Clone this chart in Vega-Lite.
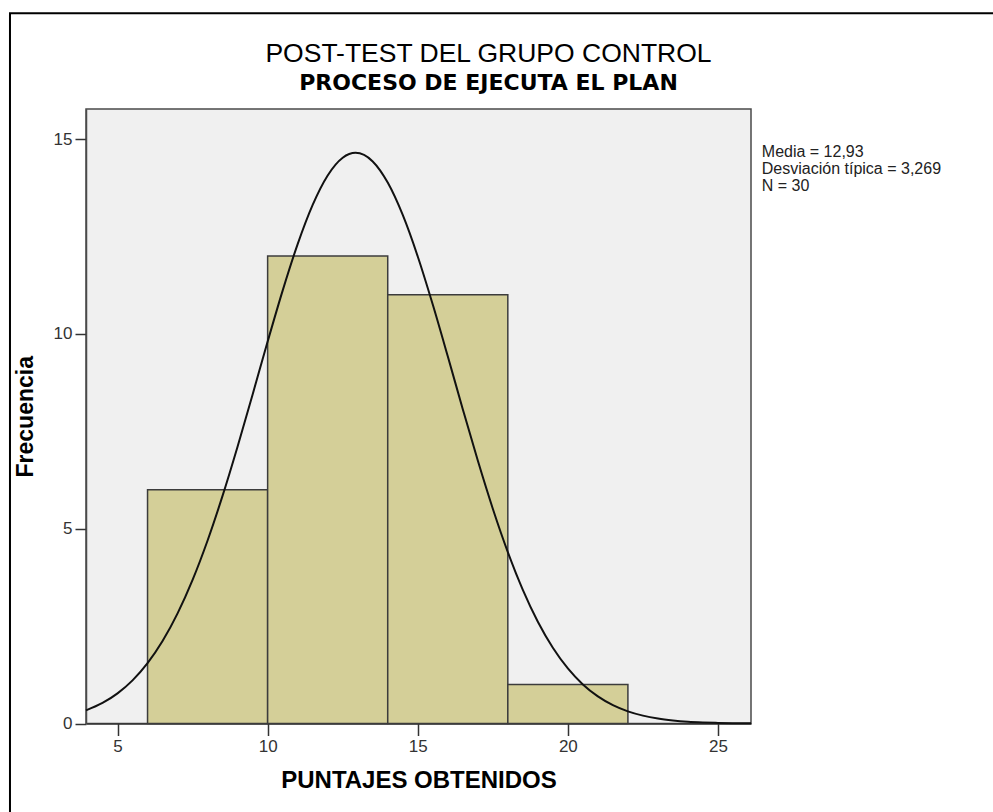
{
  "$schema": "https://vega.github.io/schema/vega-lite/v6.json",
  "width": 665,
  "height": 614.5,
  "autosize": {"type": "none"},
  "padding": {"left": 86, "top": 109, "right": 242, "bottom": 88.5},
  "background": "white",
  "title": {
    "text": "POST-TEST DEL GRUPO CONTROL",
    "subtitle": "PROCESO DE EJECUTA EL PLAN",
    "anchor": "middle",
    "dx": 70,
    "font": "Liberation Sans",
    "fontSize": 26.5,
    "fontWeight": "normal",
    "color": "#000000",
    "subtitleFont": "DejaVu Sans",
    "subtitleFontSize": 22,
    "subtitleFontWeight": "bold",
    "subtitleColor": "#000000",
    "subtitlePadding": 6,
    "offset": -82
  },
  "config": {
    "view": {"fill": "#f0f0f0", "stroke": "#4a4a4a", "strokeWidth": 1.5}
  },
  "layer": [
    {
      "data": {"values": [
        {"bin_start": 6, "bin_end": 10, "count": 6},
        {"bin_start": 10, "bin_end": 14, "count": 12},
        {"bin_start": 14, "bin_end": 18, "count": 11},
        {"bin_start": 18, "bin_end": 22, "count": 1}
      ]},
      "mark": {"type": "rect", "fill": "#d4cf98", "stroke": "#3c3c3c", "strokeWidth": 1.5},
      "encoding": {
        "x": {
          "field": "bin_start", "type": "quantitative",
          "scale": {"domain": [3.95, 26.1], "nice": false, "zero": false},
          "title": "PUNTAJES OBTENIDOS",
          "axis": {
            "values": [5, 10, 15, 20, 25],
            "grid": false,
            "domain": true, "domainColor": "#333333", "domainWidth": 1.5,
            "tickSize": 12, "tickWidth": 1.5, "tickColor": "#333333",
            "labelFont": "Liberation Sans", "labelFontSize": 17, "labelColor": "#333333",
            "labelPadding": 3, "labelFlush": false,
            "titleFont": "Liberation Sans", "titleFontSize": 24, "titleFontWeight": "bold",
            "titleColor": "#000000", "titlePadding": 14
          }
        },
        "x2": {"field": "bin_end"},
        "y": {
          "field": "count", "type": "quantitative",
          "scale": {"domain": [0, 15.77], "nice": false},
          "title": "Frecuencia",
          "axis": {
            "values": [0, 5, 10, 15],
            "grid": false,
            "domain": true, "domainColor": "#4a4a4a", "domainWidth": 1.5,
            "tickSize": 11, "tickWidth": 1.5, "tickColor": "#333333",
            "labelFont": "Liberation Sans", "labelFontSize": 17, "labelColor": "#333333",
            "labelPadding": 3, "labelFlush": false,
            "titleFont": "Liberation Sans", "titleFontSize": 23, "titleFontWeight": "bold",
            "titleColor": "#000000", "titlePadding": 16
          }
        },
        "y2": {"datum": 0}
      }
    },
    {
      "data": {"values": [
        {"x": 3.95, "y": 0.337}, {"x": 4.5, "y": 0.527}, {"x": 5, "y": 0.773},
        {"x": 5.5, "y": 1.106}, {"x": 6, "y": 1.548}, {"x": 6.5, "y": 2.116},
        {"x": 7, "y": 2.826}, {"x": 7.5, "y": 3.686}, {"x": 8, "y": 4.697},
        {"x": 8.5, "y": 5.847}, {"x": 9, "y": 7.11}, {"x": 9.5, "y": 8.445},
        {"x": 10, "y": 9.801}, {"x": 10.5, "y": 11.11}, {"x": 11, "y": 12.303},
        {"x": 11.5, "y": 13.309}, {"x": 12, "y": 14.064}, {"x": 12.5, "y": 14.519},
        {"x": 12.93, "y": 14.645}, {"x": 13.5, "y": 14.424}, {"x": 14, "y": 13.881},
        {"x": 14.5, "y": 13.05}, {"x": 15, "y": 11.985}, {"x": 15.5, "y": 10.751},
        {"x": 16, "y": 9.423}, {"x": 16.5, "y": 8.067}, {"x": 17, "y": 6.747},
        {"x": 17.5, "y": 5.512}, {"x": 18, "y": 4.399}, {"x": 18.5, "y": 3.43},
        {"x": 19, "y": 2.612}, {"x": 19.5, "y": 1.944}, {"x": 20, "y": 1.413},
        {"x": 20.5, "y": 1.003}, {"x": 21, "y": 0.696}, {"x": 21.5, "y": 0.471},
        {"x": 22, "y": 0.312}, {"x": 22.5, "y": 0.202}, {"x": 23, "y": 0.127},
        {"x": 23.5, "y": 0.079}, {"x": 24, "y": 0.047}, {"x": 24.5, "y": 0.028},
        {"x": 25, "y": 0.016}, {"x": 25.5, "y": 0.009}, {"x": 26.1, "y": 0.005}
      ]},
      "mark": {"type": "line", "color": "#111111", "strokeWidth": 2, "interpolate": "monotone"},
      "encoding": {
        "x": {"field": "x", "type": "quantitative"},
        "y": {"field": "y", "type": "quantitative"}
      }
    },
    {
      "data": {"values": [{"stats": "Media = 12,93\nDesviación típica = 3,269\nN = 30"}]},
      "mark": {"type": "text", "align": "left", "baseline": "alphabetic", "lineBreak": "\n",
               "font": "Liberation Sans", "fontSize": 16, "lineHeight": 17, "color": "#222222"},
      "encoding": {
        "x": {"datum": 26.46},
        "y": {"datum": 14.54},
        "text": {"field": "stats"}
      }
    },
    {
      "data": {"values": [{"frame": "outer"}]},
      "mark": {"type": "rect", "fill": "transparent", "stroke": "#000000", "strokeWidth": 2},
      "encoding": {
        "x": {"datum": 1.418},
        "x2": {"datum": 45},
        "y": {"datum": 18.23},
        "y2": {"datum": -5}
      }
    }
  ]
}
